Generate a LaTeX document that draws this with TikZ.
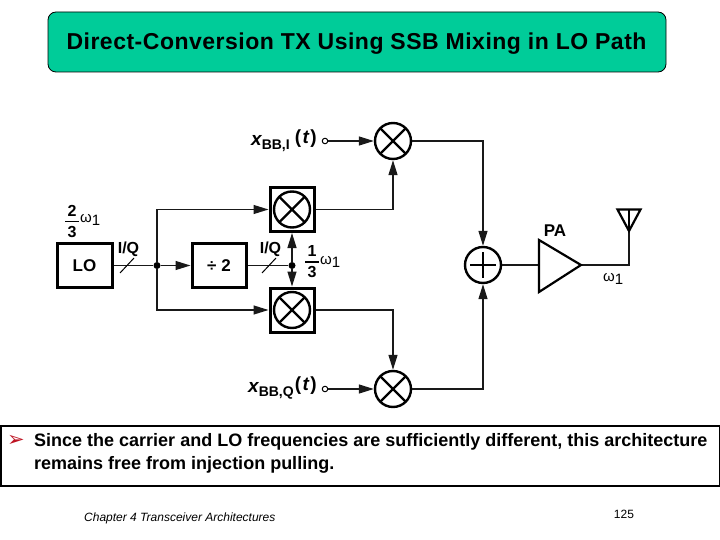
\documentclass[tikz,border=0pt]{standalone}
\usepackage{fontspec}
\setmainfont{Liberation Sans}
\newfontfamily\dingfont{DejaVu Sans}
\usetikzlibrary{arrows.meta,calc}
\definecolor{titlegreen}{RGB}{0,204,153}
\definecolor{bulletred}{RGB}{190,20,35}
\tikzset{
  wire/.style={line width=1.3pt,black!90},
  arr/.style={wire,-{Triangle[length=15pt,width=9pt]}},
  blockbox/.style={draw=black,line width=3pt,fill=white,minimum width=#1,minimum height=44pt,inner sep=0pt},
  mixer/.style={circle,draw=black,line width=2.4pt,fill=white,minimum size=36pt,inner sep=0pt,
    path picture={\draw[line width=2.2pt] (path picture bounding box.north west)--(path picture bounding box.south east)
      (path picture bounding box.north east)--(path picture bounding box.south west);}},
  adder/.style={circle,draw=black,line width=2.4pt,fill=white,minimum size=36pt,inner sep=0pt,
    path picture={\draw[line width=2.6pt] ([yshift=-5pt]path picture bounding box.north)--([yshift=5pt]path picture bounding box.south)
      ([xshift=5pt]path picture bounding box.west)--([xshift=-5pt]path picture bounding box.east);}},
  dotn/.style={circle,fill=black,minimum size=7pt,inner sep=0pt},
  port/.style={circle,draw=black,line width=1pt,fill=white,minimum size=5.5pt,inner sep=0pt},
  lab/.style={inner sep=0pt,font=\fontsize{16}{18}\selectfont\bfseries},
  omega/.style={inner sep=0pt,font=\fontsize{15}{16}\selectfont},
  fracbar/.style={line width=1.4pt},
  fracnum/.style={inner sep=0pt,font=\fontsize{16}{16}\selectfont\bfseries},
}
\newcommand{\omg}{ω\raisebox{-3.5pt}{\fontsize{15}{16}\selectfont 1}}
\begin{document}
\begin{tikzpicture}[x=1pt,y=-1pt]
\useasboundingbox (0,0) rectangle (720,540);
% title
\node[draw=black,line width=0.8pt,fill=titlegreen,rounded corners=8pt,minimum width=618pt,minimum height=60pt,inner sep=0pt] (titlebox) at (357,42) {};
\node[inner sep=0pt,font=\fontsize{23}{26}\selectfont\bfseries] (title) at (356.5,44) {\addfontfeature{LetterSpace=2.2}Direct-Conversion TX Using SSB Mixing in LO Path};
% blocks
\node[blockbox=55pt] (lo) at (84.5,265.5) {\fontsize{17}{18}\selectfont\bfseries LO};
\node[blockbox=54pt] (div) at (219,265.5) {\fontsize{17}{18}\selectfont\bfseries ÷ 2};
\node[blockbox=44pt] (boxa) at (292,209.5) {};
\node[blockbox=44pt] (boxb) at (292,310) {};
\node[mixer] (mixa) at (292,209.5) {};
\node[mixer] (mixb) at (292,310) {};
\node[mixer] (mixt) at (393,141) {};
\node[mixer] (mixq) at (393,389) {};
\node[adder] (sum) at (483,265) {};
\node[dotn] (ja) at (157,265.5) {};
\node[dotn] (jb) at (292,265.5) {};
\node[port] (pi) at (325,141) {};
\node[port] (pq) at (325,389) {};
\coordinate (pain) at (539,265);
\coordinate (paout) at (581,265);
\coordinate (ant) at (629,231);
\coordinate (antc) at (629,265);
% wires
\draw[wire] (lo.east) -- (ja);
\draw[arr] (ja) -- (div.west);
\draw[arr] (ja) |- (boxa.west);
\draw[arr] (ja) |- (boxb.west);
\draw[wire] (div.east) -- (jb);
\draw[arr] (jb) -- (boxa.south);
\draw[arr] (jb) -- (boxb.north);
\draw[arr] (pi) -- (mixt.west);
\draw[arr] (pq) -- (mixq.west);
\draw[arr] (boxa.east) -| (mixt.south);
\draw[arr] (boxb.east) -| (mixq.north);
\draw[arr] (mixt.east) -| (sum.north);
\draw[arr] (mixq.east) -| (sum.south);
\draw[wire] (sum.east) -- (pain);
\draw[wire] (paout) -- (antc) -- (ant);
% slashes
\draw[line width=1pt] (120,273) -- (134,258);
\draw[line width=1pt] (262,273) -- (276,258);
% PA and antenna
\draw[line width=2.2pt,fill=white,line join=miter] (539,240) -- (paout) -- (539,292) -- cycle;
\draw[line width=2.2pt,line join=miter] (617.5,209.5) -- (640.5,209.5) -- (ant) -- cycle;
\draw[line width=1.5pt] (629,209.5) -- (ant);
% labels
\node[lab,anchor=center] (pal) at (555,231) {\fontsize{17}{18}\selectfont PA};
\node[lab] (iqa) at (128.5,249) {I/Q};
\node[lab] (iqb) at (270.5,249) {I/Q};
\node[omega,anchor=west] (wa) at (603,279) {\omg};
\node[fracnum] (fa) at (72,211) {2};
\node[fracnum] (fb) at (72,232) {3};
\draw[fracbar] (65,221.5) -- (79,221.5);
\node[omega,anchor=west] (wb) at (80,220) {\omg};
\node[fracnum] (fc) at (312,250.5) {1};
\node[fracnum] (fd) at (312,272.5) {3};
\draw[fracbar] (305,262) -- (319,262);
\node[omega,anchor=west] (wc) at (320,262) {\omg};
\node[inner sep=0pt,anchor=west] (xi) at (251,141) {\fontsize{19}{20}\selectfont\bfseries\itshape x\raisebox{-4pt}{\upshape\fontsize{14}{15}\selectfont BB,I}\hspace{5pt}\raisebox{2pt}{\upshape (\hspace{1.5pt}\itshape t\hspace{1.5pt}\upshape )}};
\node[inner sep=0pt,anchor=west] (xq) at (248,388) {\fontsize{19}{20}\selectfont\bfseries\itshape x\raisebox{-4pt}{\upshape\fontsize{14}{15}\selectfont BB,Q}\hspace{1pt}\raisebox{2pt}{\upshape (\hspace{1.5pt}\itshape t\hspace{1.5pt}\upshape )}};
% text band
\node[draw=black,line width=2pt,fill=white,minimum width=719pt,minimum height=60pt,inner sep=0pt] (band) at (360,455.5) {};
\node[anchor=west,inner sep=0pt,text=bulletred] (bul) at (7,441) {\dingfont\fontsize{21}{22}\selectfont ➢};
\node[anchor=north west,inner sep=0pt,align=left,font=\fontsize{18}{23}\selectfont\bfseries] (body) at (34,433.5)
  {Since the carrier and LO frequencies are sufficiently different, this architecture\\remains free from injection pulling.};
\node[anchor=west,inner sep=0pt,font=\fontsize{12}{14}\selectfont\itshape] (foot) at (84,518) {Chapter 4 Transceiver Architectures};
\node[anchor=center,inner sep=0pt,font=\fontsize{12}{14}\selectfont] (pg) at (624,514) {125};
\end{tikzpicture}
\end{document}
